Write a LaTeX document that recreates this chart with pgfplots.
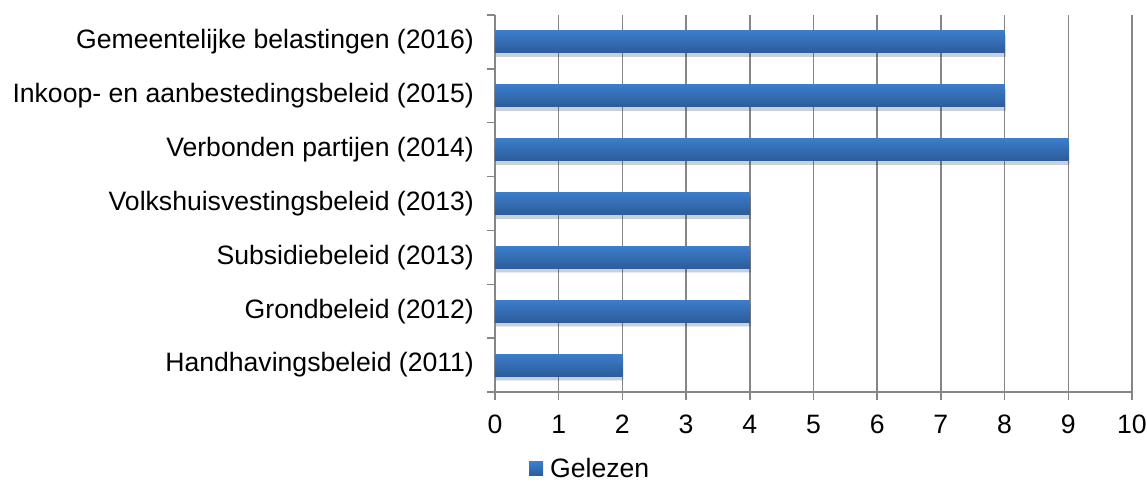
\documentclass[border=0pt]{standalone}
\usepackage{pgfplots}
\pgfplotsset{compat=1.18}
\usepackage{fontspec}
\setmainfont{Liberation Sans}
\definecolor{bartop}{HTML}{3C7DCA}
\definecolor{barbot}{HTML}{2C5C9B}
\definecolor{gridgray}{HTML}{868686}
\pgfplotsset{
  gbar/.style={xbar, bar width=11pt, bar shift=0pt, draw=none, forget plot,
    top color=bartop, bottom color=barbot,
    preaction={fill=black, opacity=0.12, transform canvas={xshift=0.5pt, yshift=-2pt}}},
}
\begin{document}
\begin{tikzpicture}
\path[use as bounding box] (-247.5pt,-48pt) rectangle (326pt,196pt);
\begin{axis}[
  at={(0pt,0pt)}, anchor=south west,
  scale only axis, width=318.5pt, height=188.5pt,
  xmin=0, xmax=10, ymin=-0.5, ymax=6.5,
  xtick={0,...,10},
  ytick={0,...,6},
  yticklabels={Handhavingsbeleid (2011),Grondbeleid (2012),Subsidiebeleid (2013),Volkshuisvestingsbeleid (2013),Verbonden partijen (2014),Inkoop- en aanbestedingsbeleid (2015),Gemeentelijke belastingen (2016)},
  minor ytick={-0.5,0.5,...,6.5},
  ytick style={draw=none},
  minor y tick style={draw=gridgray, line width=0.75pt},
  xtick style={draw=gridgray, line width=0.75pt},
  tick align=outside,
  major tick length=4pt, minor tick length=4pt,
  axis x line*=bottom, axis y line*=left,
  axis line style={draw=gridgray, line width=0.75pt},
  xmajorgrids, major grid style={draw=gridgray, line width=0.75pt},
  tick label style={font=\fontsize{13.3}{15}\selectfont},
  /pgf/number format/assume math mode=true,
  yticklabel style={xshift=-3pt},
  xticklabel style={yshift=-4pt},
  clip=false,
  legend style={at={(0.151,-0.204)}, anchor=center, draw=none, font=\fontsize{13.3}{15}\selectfont, inner sep=0pt,
    /tikz/every odd column/.append style={column sep=1.5pt}},
]
\addplot[gbar] coordinates {(2,0)};
\addplot[gbar] coordinates {(4,1)};
\addplot[gbar] coordinates {(4,2)};
\addplot[gbar] coordinates {(4,3)};
\addplot[gbar] coordinates {(9,4)};
\addplot[gbar] coordinates {(8,5)};
\addplot[gbar] coordinates {(8,6)};
\addlegendimage{legend image code/.code={\fill[draw=none, top color=bartop, bottom color=barbot] (0pt,-3.5pt) rectangle (7pt,3.5pt);}}
\addlegendentry{Gelezen}
\end{axis}
\end{tikzpicture}
\end{document}
